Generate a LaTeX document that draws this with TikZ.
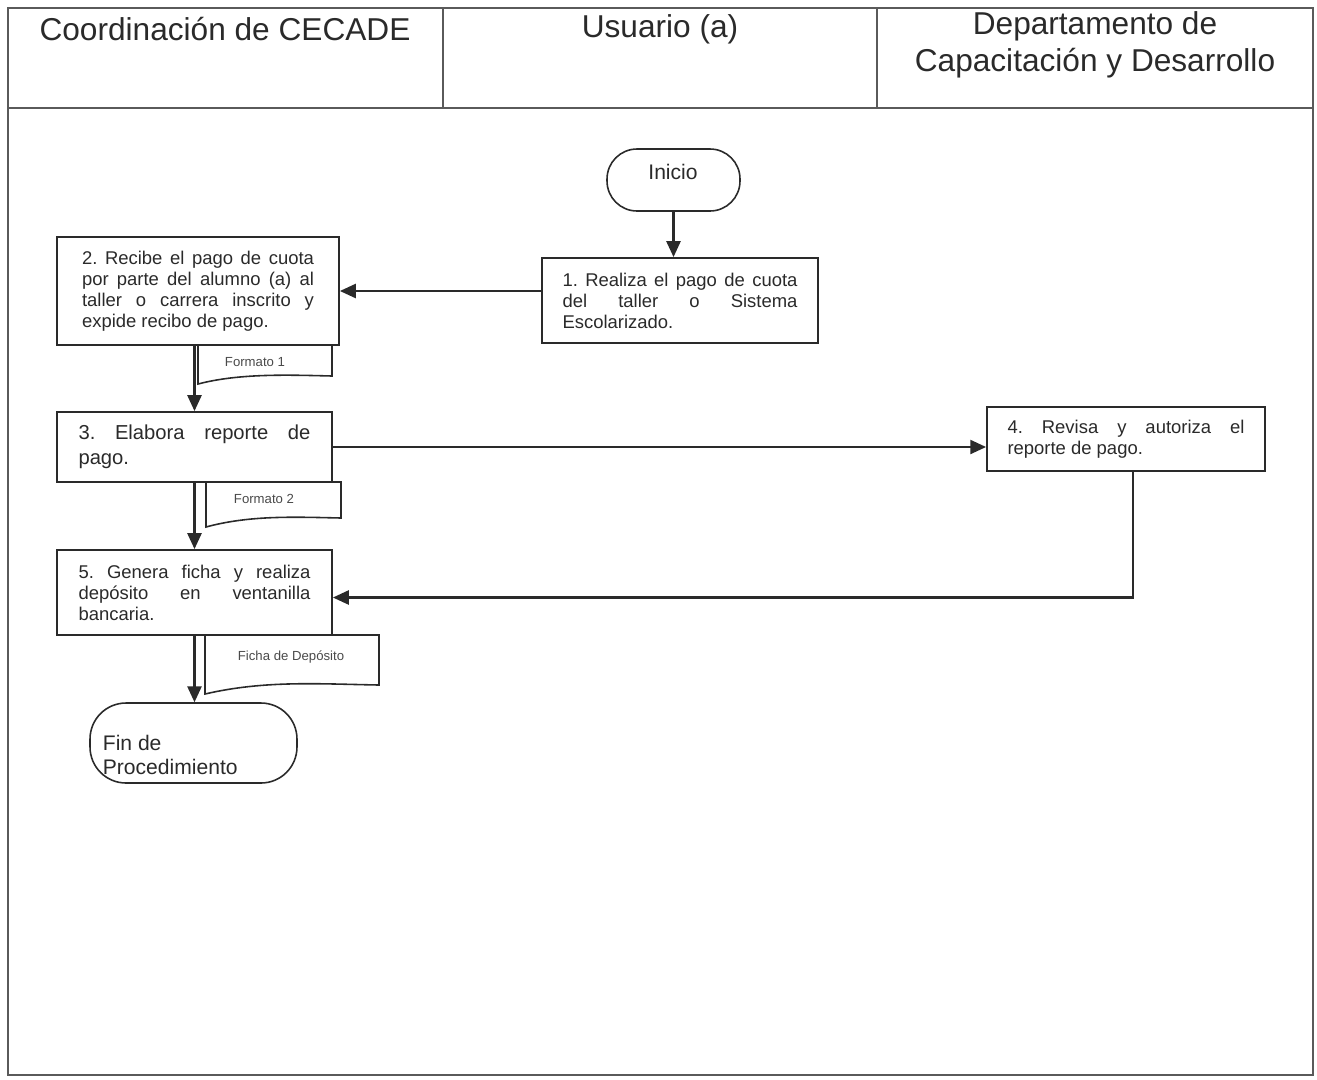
\documentclass[tikz,border=0pt]{standalone}
\usepackage{fontspec}
\setmainfont{Liberation Sans}
\definecolor{inkgray}{HTML}{2A2A2A}
\definecolor{framegray}{HTML}{5A5A5A}
\usetikzlibrary{arrows.meta,positioning}
\hyphenpenalty=10000
\exhyphenpenalty=10000
\tolerance=10000
\frenchspacing

\begin{document}
\begin{tikzpicture}[
  x=0.02cm,y=-0.02cm,
  font=\fontsize{10.5}{12}\selectfont,
  line width=1pt,draw=inkgray,text=inkgray,
  headtext/.style={font=\fontsize{18}{21}\selectfont,align=center},
  stepbox/.style={draw=inkgray,line width=1.1pt,align=justify,inner sep=0pt},
  termbox/.style={draw=inkgray,line width=0.9pt,rounded corners=0.6cm,inner sep=0pt},
  docline/.style={draw=inkgray,line width=0.9pt},
  doctext/.style={font=\fontsize{7.5}{9}\selectfont,text=inkgray!85},
  flow/.style={draw=inkgray,line width=1.2pt,-{Triangle[length=9pt,width=8pt]}}
]
\useasboundingbox (0,0) rectangle (1317,1079);
% frame and header
\draw[framegray,line width=1.3pt] (8,8) rectangle (1313,1075);
\draw[framegray] (8,108) -- (1313,108);
\draw[framegray] (443,8) -- (443,108);
\draw[framegray] (877,8) -- (877,108);
\node[headtext] (h1) at (225,29) {Coordinación de CECADE};
\node[headtext] (h2) at (660,29) {Usuario (a)};
\node[headtext] (h3) at (1095,45) {Departamento de\\Capacitación y Desarrollo};

% terminals
\node[termbox,minimum width=2.66cm,minimum height=1.24cm] (inicio) at (673.5,180) {};
\node[font=\fontsize{12}{14}\selectfont] (tinicio) at (673,172) {Inicio};
\node[termbox,rounded corners=0.72cm,minimum width=4.14cm,minimum height=1.6cm] (fin) at (193.5,743) {};
\node[anchor=west,align=left,font=\fontsize{12}{13.6}\selectfont,inner sep=0pt]
  (tfin) at (102,755) {Fin de\\Procedimiento};

% steps
\node[stepbox,text width=4.7cm,minimum width=5.52cm,minimum height=1.7cm]
  (b1) at (680,300.5) {1. Realiza el pago de cuota\linebreak del taller o Sistema\linebreak Escolarizado.};
\node[stepbox,text width=4.64cm,minimum width=5.64cm,minimum height=2.16cm]
  (b2) at (198,291) {2. Recibe el pago de cuota\linebreak por parte del alumno (a) al\linebreak taller o carrera inscrito y\linebreak expide recibo de pago.};
\node[stepbox,text width=4.64cm,minimum width=5.5cm,minimum height=1.4cm,
  font=\fontsize{11.5}{14}\selectfont]
  (b3) at (194.5,447) {3. Elabora reporte de\linebreak pago.};
\node[stepbox,text width=4.74cm,minimum width=5.56cm,minimum height=1.28cm]
  (b4) at (1126,439) {4. Revisa y autoriza el\linebreak reporte de pago.};
\node[stepbox,text width=4.64cm,minimum width=5.5cm,minimum height=1.7cm]
  (b5) at (194.5,592.5) {5. Genera ficha y realiza\linebreak depósito en ventanilla\linebreak bancaria.};

% documents
\draw[docline] (198,345) -- (332,345) -- (332,376)
  .. controls (290,375) and (240,373) .. (198,384) -- cycle;
\node[doctext] (f1) at (255,362) {Formato 1};
\draw[docline] (206,482) -- (341,482) -- (341,518)
  .. controls (295,517) and (250,515) .. (206,527) -- cycle;
\node[doctext] (f2) at (264,499) {Formato 2};
\draw[docline] (205,635) -- (379,635) -- (379,685)
  .. controls (320,684) and (265,680) .. (205,694) -- cycle;
\node[doctext] (f3) at (291,657) {Ficha de Depósito};

% connectors
\draw[flow] (inicio.south) -- (inicio.south |- b1.north);
\draw[flow] (b1.west |- b2.east) -- (b2.east);
\draw[flow] (b3.north |- b2.south) -- (b3.north);
\draw[flow] (b3.east) -- (b3.east -| b4.west);
\draw[flow] (b3.south) -- (b5.north);
\draw[flow] ([xshift=0.14cm]b4.south) |- ([yshift=-0.1cm]b5.east);
\draw[flow] (b5.south) -- (b5.south |- fin.north);
\end{tikzpicture}
\end{document}
